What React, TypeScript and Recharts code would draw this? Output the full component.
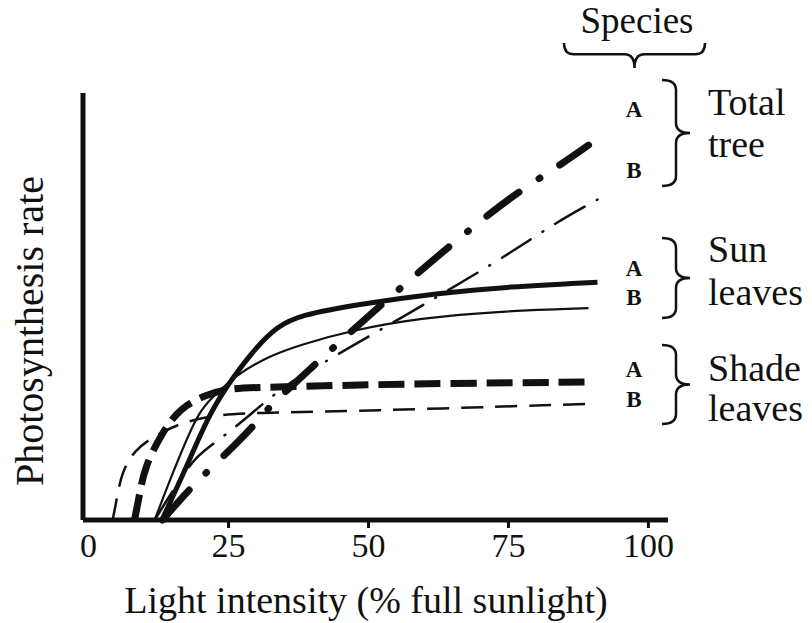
import React from "react";
import { LineChart, Line, XAxis, YAxis } from "recharts";

// light intensity (% full sunlight) -> photosynthesis rate (arbitrary units, 0-100)
const xTicks = [0, 25, 50, 75, 100];

const totalTreeA = [
  [13.2, 0], [16.3, 4.7], [19.3, 8.9], [21.1, 11.2], [26.5, 18], [29.3, 21.8], [32.9, 27.4],
  [36.5, 31.6], [43.6, 40.3], [53.8, 52.2], [65.1, 64.9], [75.8, 76.1], [83.2, 82.2], [89.3, 87.8],
];
const totalTreeB = [
  [11.8, 0], [15.9, 8.7], [19.3, 15.2], [24, 19.4], [28.8, 24.6], [35.1, 31.6], [41.3, 36.3],
  [46.7, 40.5], [57.4, 48.5], [67.3, 56.2], [75.3, 62.5], [83.4, 69.6], [91.4, 75.4],
];
const sunLeavesA = [
  [13.1, 0], [17.5, 12.4], [21.6, 25.1], [25.8, 33.5], [30, 40.5], [33.6, 45.2], [37.7, 48],
  [48.5, 50.6], [62.8, 53.2], [74.8, 54.6], [90.9, 55.7],
];
const sunLeavesB = [
  [11.8, 0], [15, 11], [19.3, 24.6], [21.6, 28.1], [24, 31], [26, 33.5], [31.8, 38.2],
  [37.7, 41], [47.2, 44.5], [59.2, 47.3], [73.5, 48.9], [89.3, 49.6],
];
const shadeLeavesA = [
  [8.2, 0], [9.1, 5.9], [10, 12.4], [13.1, 20.4], [16.3, 26.2], [20.8, 29.3], [25.2, 30.9],
  [32.4, 31.1], [55.6, 31.9], [89.3, 32.3],
];
const shadeLeavesB = [
  [4.3, 0], [5, 4.7], [5.9, 11.2], [8.2, 16.4], [11.8, 19.7], [16.3, 22.7], [22.5, 24.6],
  [28.8, 25.1], [48.5, 25.5], [89.3, 27.2],
];

const toPoints = (pts: number[][]) => pts.map(([x, y]) => ({ x, y }));

const FONT = "'Liberation Serif', 'Times New Roman', serif";
const INK = "#111";

function XTick(props: any) {
  const { x, y, payload } = props;
  return (
    <g>
      {payload.value !== 0 && (
        <line x1={x} y1={y} x2={x} y2={y + 8} stroke={INK} strokeWidth={3} />
      )}
      <text x={x} y={y + 37} textAnchor="middle" fontFamily={FONT} fontSize={34} fill={INK}>
        {payload.value}
      </text>
    </g>
  );
}

// curly brace opening to the left, tip pointing right
function vBrace(x: number, y0: number, y1: number, w: number) {
  const ym = (y0 + y1) / 2;
  const s = x + w * 0.5;
  const r = 10;
  return `M ${x} ${y0} Q ${s} ${y0} ${s} ${y0 + r} L ${s} ${ym - r} Q ${s} ${ym} ${x + w} ${ym} Q ${s} ${ym} ${s} ${ym + r} L ${s} ${y1 - r} Q ${s} ${y1} ${x} ${y1}`;
}

// curly brace opening upwards, tip pointing down
function hBrace(x0: number, x1: number, y: number, h: number) {
  const xm = (x0 + x1) / 2;
  const s = y + h * 0.45;
  const r = 10;
  return `M ${x0} ${y} Q ${x0} ${s} ${x0 + r} ${s} L ${xm - r} ${s} Q ${xm} ${s} ${xm} ${y + h} Q ${xm} ${s} ${xm + r} ${s} L ${x1 - r} ${s} Q ${x1} ${s} ${x1} ${y}`;
}

const groups = [
  { top: "Total", bottom: "tree", y0: 80, y1: 186, a: 117, b: 178, t1: 115, t2: 157 },
  { top: "Sun", bottom: "leaves", y0: 238, y1: 318, a: 276, b: 305, t1: 262, t2: 305 },
  { top: "Shade", bottom: "leaves", y0: 345, y1: 424, a: 377, b: 407, t1: 381, t2: 421 },
];

const lineProps = { dataKey: "y", type: "basis" as const, stroke: INK, dot: false, activeDot: false, isAnimationActive: false };

export default function App() {
  return (
    <div style={{ position: "absolute", left: 0, top: 0, background: "#fff" }}>
      <LineChart
        width={812}
        height={623}
        margin={{ top: 93, right: 144, bottom: 63, left: 73 }}
      >
        <XAxis
          type="number"
          dataKey="x"
          domain={[-1, 103.5]}
          ticks={xTicks}
          allowDataOverflow
          height={40}
          tickSize={0}
          tickMargin={0}
          tickLine={false}
          tick={<XTick />}
          axisLine={{ stroke: INK, strokeWidth: 5 }}
        />
        <YAxis
          type="number"
          domain={[0, 100]}
          width={10}
          tick={false}
          tickLine={false}
          axisLine={{ stroke: INK, strokeWidth: 5 }}
        />

        <Line {...lineProps} data={toPoints(shadeLeavesB)} strokeWidth={2.5} strokeDasharray="22 12" />
        <Line {...lineProps} data={toPoints(sunLeavesB)} strokeWidth={2.2} />
        <Line {...lineProps} data={toPoints(totalTreeB)} strokeWidth={2.5}
          strokeDasharray="34 14 1 14" strokeLinecap="round" />
        <Line {...lineProps} data={toPoints(shadeLeavesA)} strokeWidth={7} strokeDasharray="26 10" />
        <Line {...lineProps} data={toPoints(sunLeavesA)} strokeWidth={5} />
        <Line {...lineProps} data={toPoints(totalTreeA)} strokeWidth={7}
          strokeDasharray="40 24 1 24" strokeLinecap="round" />

        <text x={366} y={613} textAnchor="middle" fontFamily={FONT} fontSize={38} fill={INK}>
          Light intensity (% full sunlight)
        </text>
        <text x={43} y={331} transform="rotate(-90 43 331)" textAnchor="middle"
          fontFamily={FONT} fontSize={40} fill={INK}>
          Photosynthesis rate
        </text>

        <text x={637} y={33} textAnchor="middle" fontFamily={FONT} fontSize={37} fill={INK}>
          Species
        </text>
        <path d={hBrace(564, 705, 43, 25)} fill="none" stroke={INK} strokeWidth={2.5} />

        {groups.map((g) => (
          <g key={g.top}>
            <text x={634} y={g.a} textAnchor="middle" fontFamily={FONT} fontWeight="bold" fontSize={23} fill={INK}>A</text>
            <text x={634} y={g.b} textAnchor="middle" fontFamily={FONT} fontWeight="bold" fontSize={23} fill={INK}>B</text>
            <path d={vBrace(662, g.y0, g.y1, 28)} fill="none" stroke={INK} strokeWidth={2.5} />
            <text x={708} y={g.t1} fontFamily={FONT} fontSize={38} fill={INK}>{g.top}</text>
            <text x={708} y={g.t2} fontFamily={FONT} fontSize={38} fill={INK}>{g.bottom}</text>
          </g>
        ))}
      </LineChart>
    </div>
  );
}
